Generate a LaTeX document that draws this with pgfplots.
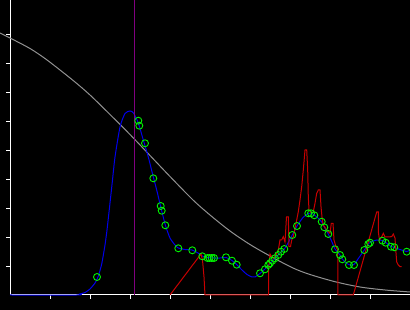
\documentclass[border=0pt]{standalone}
\usepackage{pgfplots}
\pgfplotsset{compat=1.18}
\definecolor{cgray}{RGB}{145,145,145}
\definecolor{cblue}{RGB}{0,0,235}
\definecolor{cgreen}{RGB}{0,240,0}
\definecolor{cred}{RGB}{200,0,0}
\definecolor{cpurple}{RGB}{128,0,128}
\begin{document}
\begin{tikzpicture}
\useasboundingbox (-10pt,-15pt) rectangle (400pt,295pt);
\fill[black] (-10pt,-15pt) rectangle (400pt,295pt);
\begin{axis}[
  at={(0pt,0pt)}, anchor=south west,
  scale only axis, width=400pt, height=295pt,
  xmin=0, xmax=400, ymin=0, ymax=295,
  clip=false,
  axis lines*=left,
  axis line style={white, line width=1pt},
  tick style={white, line width=1pt},
  tick align=outside,
  major tick length=4pt,
  xtick={40,80,...,360},
  ytick={28.9,57.8,86.7,115.6,144.5,173.4,202.3,231.2,260.1},
  xticklabels={}, yticklabels={},
]
% gray decreasing curve
\addplot[cgray, line width=1pt, smooth, tension=0.5, no marks] coordinates {
(-10,262) (0,257) (20,246.5) (35,236.5) (50,225) (65,213) (80,200) (100,180.5)
(120,160.5) (140,139.5) (160,118.5) (183,95) (200,80) (220,64) (240,50.5)
(260,39) (283,27) (300,20.5) (325,13.3) (350,8) (375,5) (400,3)};
% blue curve
\addplot[cblue, line width=1pt, smooth, tension=0.4, no marks] coordinates {
(0,0) (67,0) (70,1) (75,2.5) (80,6) (85,12) (88,18) (91.7,31) (95,50) (97,65)
(100,92) (102.5,115) (105,138) (110,168) (115,181.5) (120,184) (123.5,182)
(128.3,172) (133.3,155) (138.3,138) (143.3,118) (146.7,105) (151,87) (155.3,70)
(160,57) (165,50) (168.3,47) (175,45.5) (182,45) (188,42) (192.3,39) (197,37.5)
(204,37) (210,37) (216,37.5) (222,34.5) (226.7,30.5) (232,25) (237,20.5)
(242,18) (245,18) (250,21.5) (255,26) (260,31.5) (265,36.5) (270,42) (274.3,46)
(278,52) (282.3,60) (287,69) (293,77.5) (298.3,81.5) (301,82) (304.3,80)
(308,77) (311.7,73) (314.3,68) (318.3,61) (322,53) (325,46) (330,40) (332.3,36)
(336,32) (340,30) (344,30.5) (348,36) (354.3,45) (358.3,51) (362,53.5) (367,55)
(372.3,54.5) (375.7,52.5) (381,48.5) (384.3,47.5) (390,45.5) (396.7,43.5) (400,45)};
% green circle markers
\addplot[only marks, mark=o, mark size=3.5pt, mark options={cgreen, line width=0.9pt}] coordinates {
(87,18) (128.3,174.3) (129.3,169.3) (135,151.7) (143.3,116.7) (150.7,89) (151.7,84.3)
(155.3,69.7) (168.3,46.7) (182.3,44.7) (192.3,38.7) (197.5,37) (199.5,37) (201.7,37)
(204,37) (216,37.7) (222,34.3) (226.7,30.3) (250,21.7) (255,25.7) (258.3,30) (260,31.7)
(262.3,34.3) (265,36.7) (268.3,40) (271,43.3) (274.3,46) (282.3,60) (287,69)
(298.3,81.7) (301,81.7) (304.3,79.7) (311.7,73.3) (314.3,67.7) (318.3,61) (325,45.7)
(330,40) (332.3,35.7) (339,30) (344,30) (354.3,45) (358.3,51) (360,52.3) (372.3,54.3)
(375.7,52.3) (381,48.3) (384.3,47.7) (396.7,43.3)};
% red jagged line
\addplot[cred, line width=1pt, no marks] coordinates {
(160,0) (191,41) (192.5,35) (194,18) (195,0) (258.5,0) (258.5,25) (260,41)
(261.7,38.3) (263.3,36.7) (265,38.3) (268.3,45) (270,55) (271.7,55) (273.3,58.3)
(275,53) (276.5,78) (278.3,78) (279,48.3) (280.5,48.3) (281.7,55) (283.3,58.3)
(285,66.7) (286.7,75) (288.3,83.3) (290,95) (291.7,108.3) (293.3,125) (295,145)
(296.7,145) (297.7,125) (298.3,98.3) (299,85) (301.7,81.7) (303.3,83.3) (305,91.7)
(306.7,101.7) (308.3,105) (310,105) (311,88.3) (312.3,75) (313.3,70) (316.7,65)
(318.3,63.3) (320,61.7) (321.3,71.7) (323,71.7) (324,55) (326,48.3) (327.7,45)
(328,0) (343.3,0) (366.7,83) (368.3,83) (368.5,61.7) (369.5,55) (371.7,58.3)
(373.3,61.7) (375,58) (381.7,58.3) (383.3,61) (385,57) (386,42) (386.7,33)
(388.3,30) (390,28.3) (391.7,28.3)};
% purple vertical line
\addplot[cpurple, line width=1pt, no marks] coordinates {(124.5,0) (124.5,295)};
\end{axis}
\end{tikzpicture}
\end{document}
